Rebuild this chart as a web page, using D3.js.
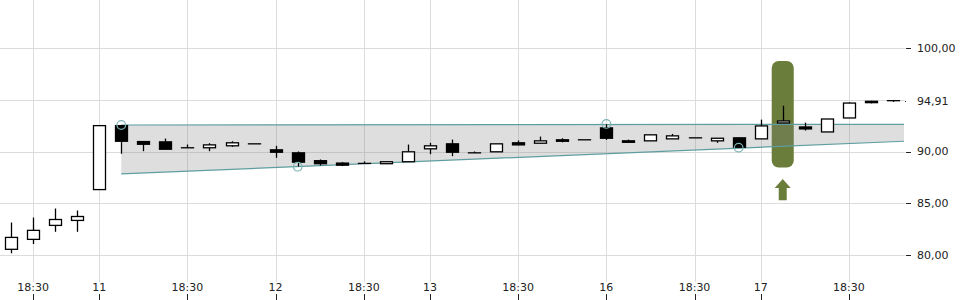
<!DOCTYPE html>
<html>
<head>
<meta charset="utf-8">
<script src="https://cdn.jsdelivr.net/npm/d3@7"></script>
<style>
    body { margin: 0; background: #fff; }
    svg { display: block; font-family: "DejaVu Sans", sans-serif; }
</style>
</head>
<body>
<div class="chart"></div>
<script>
// candle values, one entry per bar
const opens  = [80.55, 81.51, 82.86, 83.34, 86.32, 92.50, 90.96, 90.93, 90.36, 90.36, 90.55, 90.74, 90.16, 89.87, 89.11, 88.88, 88.85, 88.82, 89.01, 90.26, 90.74, 89.87, 89.97, 90.84, 90.80, 91.13, 91.13, 92.28, 91.03, 91.03, 91.22, 91.32, 91.03, 91.32, 91.22, 92.76, 92.37, 91.89, 93.24, 94.85, 94.91];
const highs  = [83.14, 83.62, 84.49, 84.30, 92.50, 92.50, 90.96, 91.25, 90.67, 90.80, 90.99, 90.74, 90.55, 90.00, 89.23, 88.97, 89.04, 89.01, 90.67, 90.84, 91.15, 90.00, 90.74, 91.06, 91.44, 91.28, 91.13, 92.62, 91.15, 91.61, 91.70, 91.32, 91.28, 91.32, 93.08, 94.42, 92.79, 93.14, 94.74, 94.90, 94.98];
const lows   = [80.16, 81.06, 82.24, 82.24, 86.32, 89.78, 90.03, 90.22, 90.36, 90.03, 90.45, 90.74, 89.39, 88.55, 88.65, 88.59, 88.85, 88.82, 89.01, 89.74, 89.55, 89.87, 89.97, 90.60, 90.80, 90.89, 91.13, 91.13, 90.89, 91.03, 91.22, 91.32, 90.84, 90.37, 91.22, 92.76, 92.02, 91.89, 93.24, 94.65, 94.80];
const closes = [81.70, 82.38, 83.43, 83.72, 92.50, 90.99, 90.70, 90.22, 90.36, 90.64, 90.84, 90.74, 89.93, 88.97, 88.82, 88.68, 88.85, 89.01, 89.97, 90.55, 89.93, 89.87, 90.74, 90.64, 91.03, 90.99, 91.13, 91.28, 90.89, 91.61, 91.51, 91.32, 91.28, 90.41, 92.47, 92.95, 92.18, 93.14, 94.68, 94.72, 94.91];

// x axis ticks (bar index) and labels
const xTickIdx = [1, 4, 8, 12, 16, 19, 23, 27, 31, 34, 38];
const xTickLabels = ["18:30", "11", "18:30", "12", "18:30", "13", "18:30", "16", "18:30", "17", "18:30"];

// y axis
const yGrid = [80, 85, 90, 95, 100];
const yTicks = [80, 85, 90, 100];
const lastPrice = 94.91;

// trend channel: [start index, end index], values at both ends
const channelIdx = [5, 40.5];
const channelUpper = [92.56, 92.63];
const channelLower = [87.83, 90.99];

// pivot markers
const pivotIdx = [5, 13, 27, 33];
const pivotVal = [92.56, 88.53, 92.66, 90.37];

// signal bar highlight
const signalIdx = 35;
const signalRange = [88.45, 98.75];
const arrowRange = [85.3, 87.35];

let width = 960, height = 300;
let plotRight = 905;

let svg = d3.select(".chart")
    .append("svg")
    .attr("width", width)
    .attr("height", height);

let x = d3.scaleLinear()
    .domain([-0.5, opens.length - 0.5])
    .range([0, 904]);

let y = d3.scaleLinear()
    .domain([80, 100])
    .range([255, 48]);

let step = x(1) - x(0);
let bodyW = 12;

// grid
svg.append("g")
    .selectAll("line")
    .data(xTickIdx)
    .enter()
    .append("line")
    .attr("x1", d => Math.round(x(d)) + 0.5)
    .attr("x2", d => Math.round(x(d)) + 0.5)
    .attr("y1", 0)
    .attr("y2", 282)
    .attr("stroke", "#dcdcdc");

svg.append("g")
    .selectAll("line")
    .data(yGrid)
    .enter()
    .append("line")
    .attr("x1", 0)
    .attr("x2", plotRight)
    .attr("y1", d => Math.round(y(d)) + 0.5)
    .attr("y2", d => Math.round(y(d)) + 0.5)
    .attr("stroke", "#dcdcdc");

// signal highlight
svg.append("rect")
    .attr("x", x(signalIdx) - step / 2)
    .attr("y", y(signalRange[1]))
    .attr("width", step)
    .attr("height", y(signalRange[0]) - y(signalRange[1]))
    .attr("rx", 7)
    .attr("fill", "#6b7d3a");

// arrow under the signal
let ax = x(signalIdx), aTop = y(arrowRange[1]), aBot = y(arrowRange[0]);
svg.append("path")
    .attr("d", d3.line()([
        [ax, aTop], [ax + 8, aTop + 9], [ax + 4, aTop + 9], [ax + 4, aBot],
        [ax - 4, aBot], [ax - 4, aTop + 9], [ax - 8, aTop + 9]
    ]) + "Z")
    .attr("fill", "#6b7d3a");

// channel area
let chan = channelIdx.map((d, i) => ({i: d, up: channelUpper[i], lo: channelLower[i]}));
svg.append("path")
    .datum(chan)
    .attr("d", d3.area().x(d => x(d.i)).y0(d => y(d.lo)).y1(d => y(d.up)))
    .attr("fill", "rgba(128,128,128,0.26)");

svg.append("path")
    .datum(chan)
    .attr("d", d3.line().x(d => x(d.i)).y(d => y(d.up)))
    .attr("fill", "none")
    .attr("stroke", "#5f9ea0")
    .attr("stroke-width", 1.2);

svg.append("path")
    .datum(chan)
    .attr("d", d3.line().x(d => x(d.i)).y(d => y(d.lo)))
    .attr("fill", "none")
    .attr("stroke", "#5f9ea0")
    .attr("stroke-width", 1.2);

// candles
let candles = opens.map((o, i) => ({i: i, o: o, h: highs[i], l: lows[i], c: closes[i]}));

let g = svg.append("g")
    .selectAll("g")
    .data(candles)
    .enter()
    .append("g");

g.append("line")
    .attr("x1", d => Math.round(x(d.i)) + 0.5)
    .attr("x2", d => Math.round(x(d.i)) + 0.5)
    .attr("y1", d => y(d.h))
    .attr("y2", d => y(d.l))
    .attr("stroke", "#000")
    .attr("stroke-width", 1.3);

g.append("rect")
    .attr("x", d => Math.round(x(d.i)) + 0.5 - bodyW / 2)
    .attr("y", d => y(Math.max(d.o, d.c)))
    .attr("width", bodyW)
    .attr("height", d => Math.max(0.01, Math.abs(y(d.o) - y(d.c))))
    .attr("fill", d => d.c >= d.o ? "#fff" : "#000")
    .attr("stroke", "#000")
    .attr("stroke-width", 1.3);

// pivots
svg.append("g")
    .selectAll("circle")
    .data(pivotIdx)
    .enter()
    .append("circle")
    .attr("cx", d => x(d))
    .attr("cy", (d, i) => y(pivotVal[i]))
    .attr("r", 4.3)
    .attr("fill", "none")
    .attr("stroke", "#7fb3b6")
    .attr("stroke-width", 1.2);

// Add Y axis (right)
let fmt = v => d3.format(".2f")(v).replace(".", ",");
let yAxis = svg.append("g");
yAxis.selectAll("line")
    .data(yTicks)
    .enter()
    .append("line")
    .attr("x1", 906)
    .attr("x2", 911)
    .attr("y1", d => Math.round(y(d)) + 0.5)
    .attr("y2", d => Math.round(y(d)) + 0.5)
    .attr("stroke", "#222");
yAxis.selectAll("text")
    .data(yTicks.concat([lastPrice]))
    .enter()
    .append("text")
    .attr("x", 917)
    .attr("y", d => y(d))
    .attr("dy", "0.35em")
    .attr("font-size", 11)
    .attr("fill", "#222")
    .text(d => fmt(d));
svg.append("rect")
    .attr("x", 905)
    .attr("y", Math.round(y(lastPrice)))
    .attr("width", 1)
    .attr("height", 1)
    .attr("fill", "#222");

// Add X axis
let xAxis = svg.append("g");
xAxis.selectAll("line")
    .data(xTickIdx)
    .enter()
    .append("line")
    .attr("x1", d => Math.round(x(d)) + 0.5)
    .attr("x2", d => Math.round(x(d)) + 0.5)
    .attr("y1", 294)
    .attr("y2", 300)
    .attr("stroke", "#222");
xAxis.selectAll("text")
    .data(xTickIdx)
    .enter()
    .append("text")
    .attr("x", d => x(d))
    .attr("y", 287)
    .attr("dy", "0.35em")
    .attr("text-anchor", "middle")
    .attr("font-size", 11)
    .attr("fill", "#222")
    .text((d, i) => xTickLabels[i]);
</script>
</body>
</html>
